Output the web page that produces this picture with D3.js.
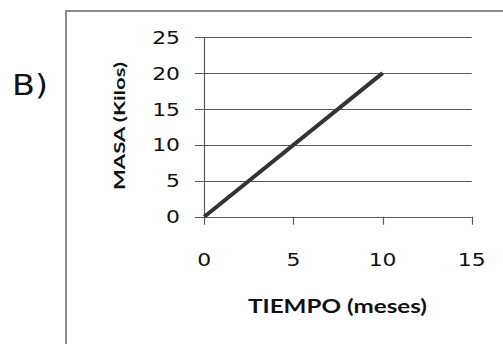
<!DOCTYPE html>
<html>
<head>
<meta charset="utf-8">
<script src="https://cdn.jsdelivr.net/npm/d3@7/dist/d3.min.js"></script>
<style>
html,body{margin:0;padding:0;background:#fff;overflow:hidden;}
svg{display:block;}
</style>
</head>
<body>
<svg id="chart" width="503" height="344"></svg>
<script>
// Data
const tiempo = [0, 10];
const masa = [0, 20];
const xTicks = [0, 5, 10, 15];
const yTicks = [0, 5, 10, 15, 20, 25];
const xTitle = "TIEMPO (meses)";
const yTitle = "MASA (Kilos)";
const panelLabel = "B)";

const svg = d3.select("#chart");

// outer frame (extends past the window)
svg.append("rect")
  .attr("x", 66).attr("y", 11)
  .attr("width", 460).attr("height", 360)
  .attr("fill", "none").attr("stroke", "#8a8a8a").attr("stroke-width", 2);

// panel label
svg.append("text")
  .attr("transform", "translate(12,95) scale(1.15,1)")
  .attr("font-family", "DejaVu Sans")
  .attr("font-size", 29)
  .attr("fill", "#111")
  .text(panelLabel);

const x = d3.scaleLinear().domain([0, 15]).range([204.3, 471.7]);
const y = d3.scaleLinear().domain([0, 25]).range([216.7, 37.3]);

// horizontal gridlines (with left tick extension)
svg.append("g").selectAll("line").data(yTicks.filter(d => d > 0)).join("line")
  .attr("x1", 195).attr("x2", x(15))
  .attr("y1", d => Math.round(y(d)) + 0.5).attr("y2", d => Math.round(y(d)) + 0.5)
  .attr("stroke", "#5a5a5a").attr("stroke-width", 1.2);

// y axis line
svg.append("line")
  .attr("x1", Math.round(x(0)) + 0.5).attr("x2", Math.round(x(0)) + 0.5)
  .attr("y1", y(25)).attr("y2", y(0))
  .attr("stroke", "#5a5a5a").attr("stroke-width", 1.2);

// x axis line + ticks
svg.append("line")
  .attr("x1", 195).attr("x2", x(15))
  .attr("y1", Math.round(y(0)) + 0.5).attr("y2", Math.round(y(0)) + 0.5)
  .attr("stroke", "#5a5a5a").attr("stroke-width", 1.2);
svg.append("g").selectAll("line").data(xTicks).join("line")
  .attr("x1", d => Math.round(x(d)) + 0.5).attr("x2", d => Math.round(x(d)) + 0.5)
  .attr("y1", y(0)).attr("y2", y(0) + 8)
  .attr("stroke", "#5a5a5a").attr("stroke-width", 1.2);

// y tick labels
svg.append("g").selectAll("text").data(yTicks).join("text")
  .attr("transform", d => `translate(180,${y(d) + 6.5}) scale(1.25,1)`)
  .attr("text-anchor", "end")
  .attr("font-family", "DejaVu Sans")
  .attr("font-size", 17.5)
  .attr("fill", "#111")
  .text(d => d);

// x tick labels
svg.append("g").selectAll("text").data(xTicks).join("text")
  .attr("transform", d => `translate(${x(d)},265.5) scale(1.25,1)`)
  .attr("text-anchor", "middle")
  .attr("font-family", "DejaVu Sans")
  .attr("font-size", 17.5)
  .attr("fill", "#111")
  .text(d => d);

// axis titles
svg.append("text")
  .attr("x", 337.5).attr("y", 313)
  .attr("text-anchor", "middle")
  .attr("font-family", "Lato")
  .attr("font-weight", "bold")
  .attr("font-size", 18)
  .attr("textLength", 179).attr("lengthAdjust", "spacingAndGlyphs")
  .attr("fill", "#111")
  .text(xTitle);

svg.append("text")
  .attr("transform", "translate(125,126) rotate(-90)")
  .attr("text-anchor", "middle")
  .attr("font-family", "Lato")
  .attr("font-weight", "bold")
  .attr("font-size", 16)
  .attr("textLength", 128).attr("lengthAdjust", "spacingAndGlyphs")
  .attr("fill", "#111")
  .text(yTitle);

// the data line
const pts = tiempo.map((t, i) => [t, masa[i]]);
svg.append("path")
  .datum(pts)
  .attr("d", d3.line().x(d => x(d[0])).y(d => y(d[1])))
  .attr("fill", "none")
  .attr("stroke", "#333")
  .attr("stroke-width", 4);
</script>
</body>
</html>
